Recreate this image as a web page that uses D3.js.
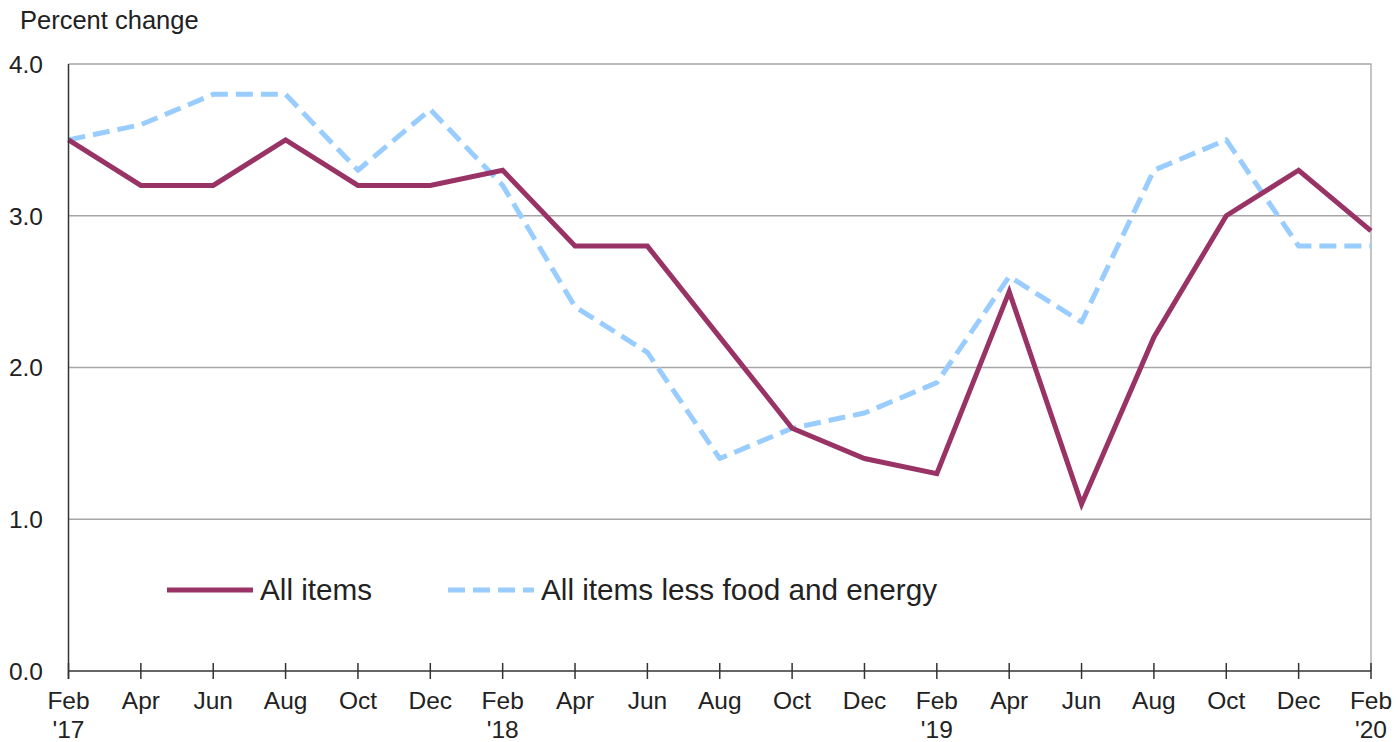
<!DOCTYPE html>
<html>
<head>
<meta charset="utf-8">
<script src="https://cdn.jsdelivr.net/npm/d3@7"></script>
<style>
  body { margin: 0; background: #fff; }
  svg { display: block; font-family: "Liberation Sans", Arial, sans-serif; }
</style>
</head>
<body>
<script>
// tick labels (every 2 months, Feb 2017 - Feb 2020)
const months = ["Feb", "Apr", "Jun", "Aug", "Oct", "Dec", "Feb", "Apr", "Jun", "Aug", "Oct", "Dec", "Feb", "Apr", "Jun", "Aug", "Oct", "Dec", "Feb"];
const years = ["'17", "", "", "", "", "", "'18", "", "", "", "", "", "'19", "", "", "", "", "", "'20"];
const allItems = [3.5, 3.2, 3.2, 3.5, 3.2, 3.2, 3.3, 2.8, 2.8, 2.2, 1.6, 1.4, 1.3, 2.5, 1.1, 2.2, 3.0, 3.3, 2.9];
const coreItems = [3.5, 3.6, 3.8, 3.8, 3.3, 3.7, 3.2, 2.4, 2.1, 1.4, 1.6, 1.7, 1.9, 2.6, 2.3, 3.3, 3.5, 2.8, 2.8];
const yTicks = [0, 1, 2, 3, 4];

const width = 1400, height = 742;
const plotL = 68.5, plotR = 1371, plotT = 64, plotB = 671;

const svg = d3.select("body").append("svg")
    .attr("width", width)
    .attr("height", height);

const x = d3.scalePoint()
    .domain(d3.range(months.length))
    .range([plotL, plotR]);

const y = d3.scaleLinear()
    .domain([0, 4])
    .range([plotB, plotT]);

// gridlines
svg.append("g")
    .selectAll("line")
    .data(yTicks.filter(d => d > 0 && d < 4))
    .join("line")
    .attr("x1", plotL).attr("x2", plotR)
    .attr("y1", d => y(d)).attr("y2", d => y(d))
    .attr("stroke", "#a6a6a6")
    .attr("stroke-width", 1.3);

// frame top / right
svg.append("path")
    .attr("d", `M${plotL},${plotT}H${plotR}V${plotB}`)
    .attr("fill", "none")
    .attr("stroke", "#a6a6a6")
    .attr("stroke-width", 1.3);

// y labels
svg.append("g")
    .attr("text-anchor", "end")
    .selectAll("text")
    .data(yTicks)
    .join("text")
    .attr("x", 43)
    .attr("y", d => y(d))
    .attr("dy", "0.36em")
    .attr("font-size", 24.5)
    .attr("fill", "#222")
    .text(d => d.toFixed(1));

svg.append("text")
    .attr("x", 20)
    .attr("y", 29)
    .attr("font-size", 25.5)
    .attr("fill", "#222")
    .text("Percent change");

// lines
const line = (vals) => d3.line()
    .x((d, i) => x(i))
    .y(d => y(d))(vals);

svg.append("path")
    .attr("d", line(coreItems))
    .attr("fill", "none")
    .attr("stroke", "#99ccff")
    .attr("stroke-width", 5)
    .attr("stroke-dasharray", "17,8")
    .attr("stroke-linejoin", "round");

svg.append("path")
    .attr("d", line(allItems))
    .attr("fill", "none")
    .attr("stroke", "#993366")
    .attr("stroke-width", 5)
    .attr("stroke-linejoin", "miter");

// axes on top
svg.append("line")
    .attr("x1", plotL).attr("x2", plotL)
    .attr("y1", plotT).attr("y2", plotB + 8)
    .attr("stroke", "#333").attr("stroke-width", 1.5);

svg.append("line")
    .attr("x1", plotL).attr("x2", plotR)
    .attr("y1", plotB).attr("y2", plotB)
    .attr("stroke", "#333").attr("stroke-width", 1.5);

const xt = svg.append("g")
    .selectAll("g")
    .data(months)
    .join("g")
    .attr("transform", (d, i) => `translate(${x(i)},0)`);

xt.append("line")
    .attr("y1", plotB - 8).attr("y2", plotB + 8)
    .attr("stroke", "#333").attr("stroke-width", 1.5);

xt.append("text")
    .attr("text-anchor", "middle")
    .attr("y", 709)
    .attr("font-size", 24.5)
    .attr("fill", "#222")
    .text(d => d);

xt.append("text")
    .attr("text-anchor", "middle")
    .attr("y", 738)
    .attr("font-size", 24.5)
    .attr("fill", "#222")
    .text((d, i) => years[i]);

// legend
const legend = [
    {name: "All items", color: "#993366", dash: null, x0: 167},
    {name: "All items less food and energy", color: "#99ccff", dash: "17,8", x0: 448}
];
const lg = svg.append("g")
    .selectAll("g")
    .data(legend)
    .join("g")
    .attr("transform", d => `translate(${d.x0},590)`);

lg.append("line")
    .attr("x1", 0).attr("x2", 86)
    .attr("stroke", d => d.color)
    .attr("stroke-width", 5)
    .attr("stroke-dasharray", d => d.dash);

lg.append("text")
    .attr("x", 93)
    .attr("dy", "0.35em")
    .attr("font-size", 29.7)
    .attr("fill", "#222")
    .text(d => d.name);
</script>
</body>
</html>
